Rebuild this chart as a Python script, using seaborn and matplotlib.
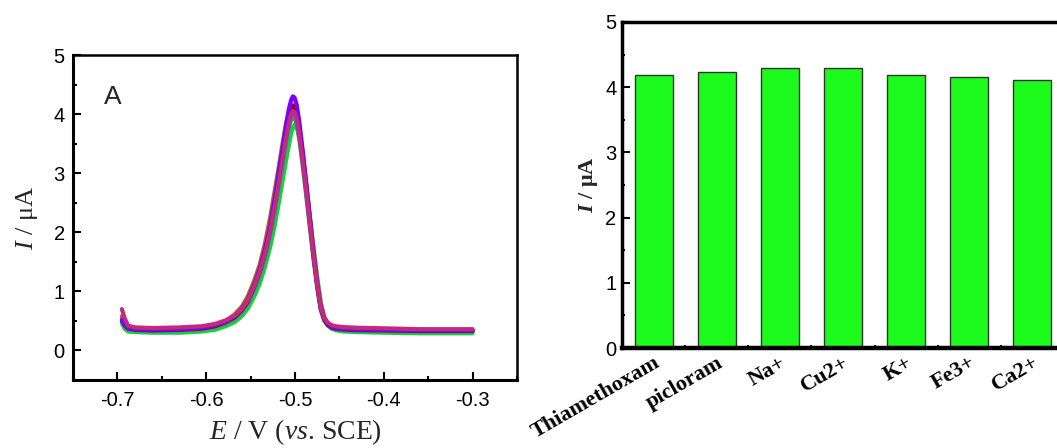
import pandas as pd
import seaborn as sns
import matplotlib.pyplot as plt
from matplotlib.ticker import MultipleLocator

# potential grid (V vs. SCE), shared by all curves
E = [-0.695, -0.692, -0.688, -0.680, -0.660, -0.630, -0.605, -0.590, -0.578, -0.568,
     -0.560, -0.553, -0.546, -0.540, -0.534, -0.528, -0.523, -0.518, -0.514, -0.510,
     -0.507, -0.5045, -0.5025, -0.5005, -0.498, -0.495, -0.491, -0.487, -0.483, -0.479,
     -0.475, -0.471, -0.467, -0.463, -0.459, -0.454, -0.445, -0.430, -0.400, -0.360,
     -0.330, -0.300]

# currents (uA)
I_green = [0.46, 0.37, 0.32, 0.31, 0.30, 0.30, 0.32, 0.35, 0.41, 0.48,
           0.58, 0.71, 0.91, 1.12, 1.40, 1.75, 2.10, 2.52, 2.87, 3.22,
           3.47, 3.66, 3.76, 3.82, 3.78, 3.61, 3.20, 2.73, 2.22, 1.71,
           1.23, 0.81, 0.55, 0.43, 0.37, 0.34, 0.32, 0.31, 0.30, 0.29,
           0.29, 0.29]
I_teal = [0.50, 0.42, 0.36, 0.34, 0.33, 0.34, 0.36, 0.40, 0.46, 0.54,
          0.65, 0.80, 1.03, 1.26, 1.56, 1.95, 2.35, 2.80, 3.15, 3.52,
          3.76, 3.90, 3.96, 3.94, 3.82, 3.55, 3.08, 2.57, 2.04, 1.52,
          1.05, 0.68, 0.50, 0.42, 0.38, 0.36, 0.345, 0.335, 0.33, 0.32,
          0.32, 0.32]
I_brown = [0.58, 0.46, 0.39, 0.36, 0.35, 0.36, 0.38, 0.43, 0.50, 0.61,
           0.74, 0.92, 1.18, 1.44, 1.80, 2.25, 2.69, 3.13, 3.51, 3.85,
           4.01, 4.05, 4.04, 4.02, 3.96, 3.73, 3.28, 2.77, 2.23, 1.70,
           1.21, 0.80, 0.57, 0.46, 0.41, 0.39, 0.37, 0.36, 0.35, 0.34,
           0.34, 0.34]
I_darkred = [0.51, 0.43, 0.37, 0.35, 0.34, 0.35, 0.37, 0.41, 0.48, 0.56,
             0.68, 0.83, 1.08, 1.32, 1.63, 2.04, 2.46, 2.93, 3.30, 3.69,
             3.94, 4.09, 4.15, 4.13, 4.00, 3.72, 3.23, 2.69, 2.14, 1.59,
             1.10, 0.71, 0.52, 0.43, 0.39, 0.37, 0.355, 0.345, 0.34, 0.33,
             0.33, 0.33]
I_purple = [0.52, 0.44, 0.38, 0.36, 0.35, 0.36, 0.38, 0.43, 0.49, 0.58,
            0.70, 0.86, 1.11, 1.36, 1.69, 2.11, 2.55, 3.04, 3.42, 3.82,
            4.08, 4.23, 4.30, 4.28, 4.15, 3.85, 3.34, 2.79, 2.21, 1.64,
            1.13, 0.73, 0.53, 0.45, 0.40, 0.38, 0.37, 0.355, 0.35, 0.34,
            0.34, 0.34]
I_magenta = [0.70, 0.55, 0.42, 0.39, 0.38, 0.39, 0.41, 0.45, 0.51, 0.59,
             0.70, 0.85, 1.09, 1.32, 1.62, 2.02, 2.42, 2.87, 3.23, 3.60,
             3.84, 3.99, 4.05, 4.03, 3.91, 3.63, 3.16, 2.64, 2.11, 1.58,
             1.11, 0.73, 0.55, 0.47, 0.43, 0.41, 0.395, 0.385, 0.375, 0.36,
             0.36, 0.36]

curves = {"green": I_green, "teal": I_teal, "brown": I_brown,
          "darkred": I_darkred, "purple": I_purple, "magenta": I_magenta}
curve_colors = {"green": "#19d03c", "teal": "#2e8fa3", "brown": "#a5691e",
                "darkred": "#8c0a14", "purple": "#7a00ff", "magenta": "#c42a7c"}

# interference study (peak current, uA)
species = ["Thiamethoxam", "picloram", "Na+", "Cu2+", "K+", "Fe3+", "Ca2+"]
peak_current = [4.18, 4.23, 4.30, 4.29, 4.18, 4.16, 4.11]

sns.set_style("ticks")
plt.rcParams["font.family"] = ["Liberation Sans", "DejaVu Sans"]
plt.rcParams["mathtext.fontset"] = "custom"
plt.rcParams["mathtext.rm"] = "Liberation Serif"
plt.rcParams["mathtext.it"] = "Liberation Serif:italic"
plt.rcParams["mathtext.bf"] = "Liberation Serif:italic:bold"
plt.rcParams["axes.edgecolor"] = "black"
plt.rcParams["xtick.color"] = "black"
plt.rcParams["ytick.color"] = "black"
plt.rcParams["lines.solid_joinstyle"] = "round"

df = pd.concat([pd.DataFrame({"E": E, "I": v, "run": k}) for k, v in curves.items()])

fig = plt.figure(figsize=(10.57, 4.48), dpi=100)
ax1 = fig.add_axes([0.0691, 0.1518, 0.42, 0.7254])
ax2 = fig.add_axes([0.5885, 0.2232, 0.418, 0.7277])

# %% left: DPV curves
sns.lineplot(data=df, x="E", y="I", hue="run", palette=curve_colors, sort=False,
             estimator=None, lw=3.0, legend=False, ax=ax1)
ax1.set_xlim(-0.75, -0.25)
ax1.set_ylim(-0.5, 5)
ax1.xaxis.set_minor_locator(MultipleLocator(0.05))
ax1.yaxis.set_minor_locator(MultipleLocator(0.5))
ax1.set_xticks([-0.7, -0.6, -0.5, -0.4, -0.3])
ax1.set_xticklabels(["-0.7", "-0.6", "-0.5", "-0.4", "-0.3"])
ax1.set_yticks([0, 1, 2, 3, 4, 5])
ax1.tick_params(which="both", direction="in", width=1.5, labelsize=14.5)
ax1.tick_params(which="major", length=6)
ax1.tick_params(which="minor", length=3)
ax1.tick_params(axis="x", pad=8)
ax1.tick_params(axis="y", pad=6)
for s in ax1.spines.values():
    s.set_linewidth(1.8)
ax1.spines["bottom"].set_linewidth(2.2)
ax1.spines["left"].set_linewidth(2.2)
ax1.set_xlabel("$E$ / V ($vs$. SCE)", family="Liberation Serif", fontsize=20, labelpad=5)
ax1.set_ylabel("$I$ / μA", family="Liberation Serif", fontsize=19, labelpad=10)
ax1.text(0.09, 0.87, "A", transform=ax1.transAxes, fontsize=19, ha="center", va="center")

# %% right: bar chart
sns.barplot(x=species, y=peak_current, color="#1cfb1c", saturation=1, width=0.6,
            edgecolor="#333333", linewidth=1, ax=ax2)
ax2.set_xlim(-0.5, 6.5)
ax2.set_ylim(0, 5)
ax2.yaxis.set_major_locator(MultipleLocator(1))
ax2.yaxis.set_minor_locator(MultipleLocator(0.5))
ax2.xaxis.set_minor_locator(MultipleLocator(0.5))
ax2.tick_params(which="both", direction="in", width=1.5, labelsize=14.5)
ax2.tick_params(which="major", length=6)
ax2.tick_params(which="minor", length=2)
ax2.tick_params(axis="y", pad=4)
for s in ax2.spines.values():
    s.set_linewidth(2.5)
ax2.spines["bottom"].set_linewidth(3.2)
plt.setp(ax2.get_xticklabels(), rotation=30, ha="right", rotation_mode="anchor",
         family="Liberation Serif", fontweight="bold", fontsize=16)
ax2.set_ylabel(r"$\mathbf{I}$ / μA", family="Liberation Serif", fontweight="bold",
               fontsize=16, labelpad=4)
ax2.set_xlabel("")

fig.savefig("out.png", dpi=100)
